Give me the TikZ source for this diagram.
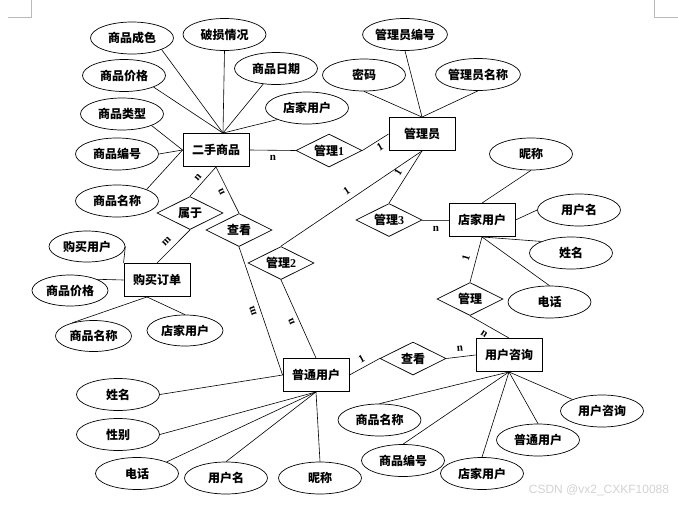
\documentclass[tikz,border=0pt]{standalone}
\usepackage{fontspec}
\setmainfont{Liberation Serif}
\setsansfont{Liberation Sans}
\newfontfamily\cjk{Noto Sans CJK SC}
\usetikzlibrary{shapes.geometric,calc}
\tikzset{
  txt/.style={font=\cjk\bfseries\fontsize{12}{12}\selectfont, text=black},
  ent/.style={txt, draw, line width=0.9pt, minimum width=66pt, minimum height=33pt, inner sep=0pt},
  rel/.style={txt, draw, line width=0.7pt, diamond, aspect=2, minimum width=66pt, minimum height=33pt, inner sep=0pt},
  attr/.style={txt, draw, line width=0.7pt, ellipse, minimum width=83pt, minimum height=32pt, inner sep=0pt},
  sattr/.style={attr, minimum width=76pt, minimum height=31pt},
  lnk/.style={line width=0.6pt},
  card/.style={font=\bfseries\fontsize{11}{11}\selectfont, inner sep=0pt},
  corner/.style={draw=gray!55, line width=0.6pt},
}
\begin{document}
\begin{tikzpicture}[x=1pt,y=-1pt]
\useasboundingbox (0,0) rectangle (678,504);
% corner marks
\coordinate (tlA) at (31,0); \coordinate (tlB) at (31,17); \coordinate (tlC) at (8,17);
\coordinate (trA) at (654,0); \coordinate (trB) at (654,17); \coordinate (trC) at (678,17);
\draw[corner] (tlA) -- (tlB) -- (tlC);
\draw[corner] (trA) -- (trB) -- (trC);

% entities
\node[ent] (g)  at (216,150) {二手商品};
\node[ent] (m)  at (422,134) {管理员};
\node[ent] (s)  at (482,220) {店家用户};
\node[ent] (bo) at (157,280) {购买订单};
\node[ent] (p)  at (316,375) {普通用户};
\node[ent] (u)  at (509,355) {用户咨询};

% relations
\node[rel] (r1)  at (329,150.5) {管理\rmfamily 1};
\node[rel] (rs)  at (190,213) {属于};
\node[rel] (cv1) at (239,230) {查看};
\node[rel] (r2)  at (281,263) {管理\rmfamily 2};
\node[rel] (r3)  at (389,220) {管理\rmfamily 3};
\node[rel] (r4)  at (470,299) {管理};
\node[rel] (cv2) at (413,358.5) {查看};

% attributes of 二手商品
\node[attr] (gcs) at (132,38) {商品成色};
\node[attr] (gps) at (224.5,34.5) {破损情况};
\node[attr] (grq) at (276,68.5) {商品日期};
\node[attr] (gdj) at (307,108) {店家用户};
\node[attr] (gjg) at (124,75.5) {商品价格};
\node[attr] (glx) at (122,114) {商品类型};
\node[attr] (gbh) at (117,154) {商品编号};
\node[attr] (gmc) at (117,201) {商品名称};
% attributes of 管理员
\node[attr] (mbh) at (405,34.5) {管理员编号};
\node[attr] (mmm) at (364,75) {密码};
\node[attr] (mmc) at (478,74.5) {管理员名称};
% attributes of 店家用户
\node[attr] (snc) at (531,154) {昵称};
\node[attr] (syh) at (579,210) {用户名};
\node[attr] (sxm) at (571,253) {姓名};
\node[attr] (sdh) at (549.5,302) {电话};
% attributes of 购买订单
\node[sattr] (bgm) at (87,246.5) {购买用户};
\node[sattr] (bjg) at (70,290.5) {商品价格};
\node[sattr] (bmc) at (93.5,336) {商品名称};
\node[sattr] (bdj) at (185,330.5) {店家用户};
% attributes of 用户咨询
\node[attr] (umc) at (379.5,420) {商品名称};
\node[attr] (ubh) at (403,460.5) {商品编号};
\node[attr] (udj) at (482,473.5) {店家用户};
\node[attr] (upt) at (538,440) {普通用户};
\node[attr] (uzx) at (602,411) {用户咨询};
% attributes of 普通用户
\node[attr] (pxm) at (118,394.5) {姓名};
\node[attr] (pxb) at (118,434.5) {性别};
\node[attr] (pdh) at (137,473.5) {电话};
\node[attr] (pyh) at (226,478) {用户名};
\node[attr] (pnc) at (320,478) {昵称};

\coordinate (gtop) at ($(g.north)+(7,0)$);
\coordinate (bob) at ($(bo.south)+(-10,0)$);

% attribute connectors
\draw[lnk] (gcs.south east) -- (gtop);
\draw[lnk] (gjg.south east) -- (gtop);
\draw[lnk] (gps.south) -- (gtop);
\draw[lnk] (grq) -- (gtop);
\draw[lnk] (gdj.south west) -- (gtop);
\draw[lnk] (glx.south east) -- (g.west);
\draw[lnk] (gbh.east) -- (g.west);
\draw[lnk] (gmc.north east) -- (g.west);
\foreach \a in {mbh,mmm,mmc} \draw[lnk] (\a.south) -- (m.north);
\draw[lnk] (snc.south) -- (s.north);
\draw[lnk] (syh.west) -- (s.east);
\draw[lnk] (sxm.north west) -- (s.south);
\draw[lnk] (sdh.north) -- (s.south);
\draw[lnk] (bgm.east) -- (bo.north west);
\draw[lnk] (bjg.north east) -- (bo.west);
\draw[lnk] (bmc.148) -- (bob);
\draw[lnk] (bdj.north) -- (bob);
\foreach \a in {umc,ubh,udj,upt} \draw[lnk] (\a.north) -- (u.south);
\draw[lnk] (uzx.north west) -- (u.south);
\draw[lnk] (pxm.east) -- (p.west);
\draw[lnk] (pxb.east) -- (p.south);
\draw[lnk] (pdh.north east) -- (p.south);
\draw[lnk] (pyh.north) -- (p.south);
\draw[lnk] (pnc.north) -- (p.south);

% relationship connectors
\draw[lnk] (g.east) -- (r1.west);
\draw[lnk] (r1.east) -- (m.west);
\draw[lnk] (g.south) -- (rs.north);
\draw[lnk] (rs.south) -- (bo.north);
\draw[lnk] (g.south) -- (cv1.north);
\draw[lnk] (cv1.south) -- (p.west);
\draw[lnk] (m.south) -- (r2.north);
\draw[lnk] (r2.south) -- (p.north);
\draw[lnk] (m.south) -- (r3.north);
\draw[lnk, line width=1pt, draw=black!70] (r3.east) -- (s.west);
\draw[lnk] (s.south) -- (r4.north);
\draw[lnk] (r4.south) -- (u.north);
\draw[lnk] (p.east) -- (cv2.west);
\draw[lnk] (cv2.east) -- (u.west);

% cardinalities
\node[card] (c1) at (273,158) {n};
\node[card, rotate=30] (c2) at (380,147) {1};
\node[card, rotate=48] (c3) at (198,177) {n};
\node[card, rotate=45] (c4) at (166.5,241.5) {m};
\node[card, rotate=116] (c5) at (221.5,191.5) {n};
\node[card, rotate=109] (c6) at (253,311.5) {m};
\node[card, rotate=34] (c7) at (346.5,191) {1};
\node[card, rotate=113] (c8) at (291.5,321.5) {n};
\node[card, rotate=58] (c9) at (398,172.5) {1};
\node[card] (c10) at (436,229) {n};
\node[card, rotate=74] (c11) at (466,258) {1};
\node[card, rotate=-33] (c12) at (484,333.5) {n};
\node[card, rotate=29] (c13) at (361.5,358.5) {1};
\node[card, rotate=5] (c14) at (460,349) {n};

% watermark
\node[font=\sffamily\fontsize{12}{12}\selectfont, text=gray!35, inner sep=0pt] (wm) at (599,490) {CSDN @vx2\_CXKF10088};
\end{tikzpicture}
\end{document}
